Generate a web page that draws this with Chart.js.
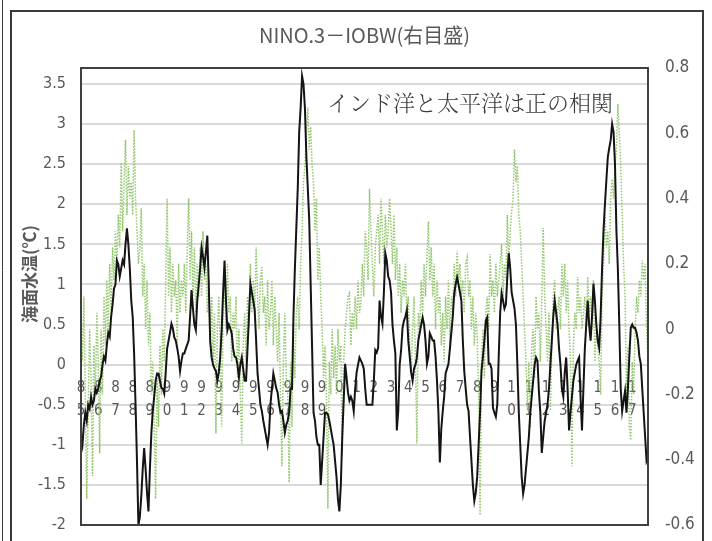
<!DOCTYPE html>
<html lang="ja">
<head>
<meta charset="utf-8">
<title>NINO.3－IOBW</title>
<script src="https://cdn.jsdelivr.net/npm/chart.js@4.4.1/dist/chart.umd.min.js"></script>
<style>
  html, body { margin: 0; padding: 0; background: #ffffff; }
  #wrap { width: 712px; height: 541px; position: relative; }
  canvas { display: block; }
</style>
</head>
<body>
<div id="wrap"><canvas id="c" width="712" height="541"></canvas></div>
<script>
// Years shown on the category axis (monthly data, Jan 1985 - Dec 2017)
const years = [1985,1986,1987,1988,1989,1990,1991,1992,1993,1994,1995,1996,1997,1998,1999,2000,
               2001,2002,2003,2004,2005,2006,2007,2008,2009,2010,2011,2012,2013,2014,2015,2016,2017];

// NINO.3 SST deviation (°C), left axis, one row per year
const nino3 = [
  -0.9,-1.0,-0.75,-0.6,-0.7,-0.5,-0.55,-0.4,-0.5,-0.45,-0.3,-0.35,
  -0.3,-0.2,-0.15,0.0,0.1,0.05,0.25,0.4,0.35,0.6,0.75,0.95,
  1.0,1.3,1.25,1.1,1.2,1.3,1.25,1.5,1.7,1.5,1.2,0.8,
  0.6,0.14,-0.5,-1.2,-2.0,-1.9,-1.64,-1.3,-1.04,-1.3,-1.6,-1.83,
  -1.3,-0.86,-0.58,-0.4,-0.2,-0.11,-0.11,-0.2,-0.29,-0.3,-0.36,-0.1,
  0.2,0.3,0.4,0.51,0.45,0.34,0.3,0.21,0.1,-0.08,0.05,0.14,
  0.14,0.2,0.25,0.3,0.6,0.93,0.7,0.5,0.43,0.8,1.0,1.2,
  1.46,1.35,1.21,1.4,1.61,1.0,0.3,0.09,0.0,-0.05,-0.08,-0.2,
  -0.1,0.1,0.43,0.9,1.3,0.8,0.43,0.5,0.45,0.39,0.2,0.1,
  0.09,0.0,-0.16,0.0,0.09,-0.05,-0.2,-0.2,0.2,0.6,1.01,0.9,
  0.8,0.68,0.3,-0.11,-0.3,-0.5,-0.58,-0.7,-0.8,-0.9,-1.0,-0.85,
  -0.49,-0.3,-0.11,-0.2,-0.29,-0.35,-0.5,-0.6,-0.58,-0.7,-0.85,-0.75,
  -0.7,-0.6,-0.3,-0.3,0.6,1.2,1.7,2.2,2.9,3.2,3.6,3.5,
  3.2,2.6,2.2,1.8,1.0,0.2,-0.6,-0.7,-0.9,-1.0,-1.0,-1.5,
  -1.2,-0.9,-0.6,-0.6,-0.62,-0.7,-0.8,-0.9,-1.0,-1.2,-1.4,-1.68,
  -1.83,-1.5,-0.9,-0.45,0.01,-0.16,-0.35,-0.45,-0.4,-0.45,-0.58,-0.3,
  -0.1,0.0,0.09,0.05,0.01,-0.05,-0.3,-0.5,-0.5,-0.5,-0.5,-0.5,
  -0.2,0.18,0.15,0.21,0.8,0.6,0.51,0.9,1.39,1.3,1.1,1.05,
  0.9,0.5,0.3,0.14,-0.82,-0.58,0.0,0.18,0.46,0.55,0.6,0.68,
  0.3,0.1,-0.1,-0.2,-0.05,0.0,0.09,0.3,0.4,0.5,0.59,0.5,
  0.3,0.01,0.1,0.39,0.35,0.3,0.3,0.1,-0.2,-0.6,-1.22,-0.8,
  -0.58,-0.4,-0.11,-0.05,0.01,0.2,0.4,0.6,0.89,1.0,1.09,1.0,
  0.9,0.8,0.3,-0.08,-0.3,-0.5,-0.58,-0.9,-1.2,-1.5,-1.7,-1.6,
  -1.4,-1.0,-0.6,-0.08,0.1,0.3,0.55,0.59,0.01,0.01,-0.05,-0.54,
  -0.6,-0.65,-0.5,0.1,0.64,0.89,0.8,0.7,0.75,1.1,1.39,1.2,
  0.9,0.8,0.7,0.5,0.0,-0.6,-1.0,-1.4,-1.61,-1.5,-1.3,-1.1,
  -0.9,-0.6,-0.4,-0.2,0.0,0.09,0.05,-0.33,-0.6,-1.1,-0.9,-0.7,
  -0.6,-0.5,-0.3,0.0,0.3,0.6,0.8,0.65,0.5,0.21,0.0,-0.3,
  -0.4,-0.1,0.09,-0.3,-0.82,-0.6,-0.4,-0.2,-0.1,0.0,0.05,0.09,
  -0.4,-0.82,-0.3,0.2,0.5,0.8,0.5,0.3,0.6,1.01,0.8,0.5,
  0.3,0.21,0.6,1.2,1.67,2.0,2.3,2.59,2.7,2.8,3.0,2.9,
  2.5,1.67,1.2,0.5,-0.3,-0.58,-0.45,-0.33,-0.6,-0.3,0.1,0.46,
  0.5,0.46,0.46,0.4,0.3,0.1,0.01,-0.3,-0.6,-0.9,-1.2,-1.15
];

// IOBW SST deviation (°C), right axis, one row per year
const iobw = [
  0.05,-0.1,0.1,-0.2,-0.52,-0.25,0.0,-0.15,-0.45,-0.05,-0.2,0.05,
  -0.1,-0.38,0.0,-0.2,0.1,-0.05,0.15,0.0,0.2,0.05,0.25,0.15,
  0.3,0.2,0.35,0.25,0.51,0.3,0.45,0.58,0.35,0.5,0.4,0.45,
  0.35,0.61,0.4,0.3,0.2,0.25,0.37,0.1,0.2,0.0,0.15,-0.05,
  0.05,-0.2,-0.1,-0.3,-0.52,-0.15,-0.3,-0.05,-0.2,0.0,-0.1,0.15,
  0.4,0.1,0.25,0.05,0.2,0.1,0.15,-0.05,0.2,0.05,0.15,0.1,
  0.2,0.05,0.25,0.4,0.15,0.3,0.1,0.25,0.05,0.2,0.1,0.25,
  0.1,0.3,0.15,0.2,0.05,0.15,-0.05,0.1,-0.1,0.05,-0.32,0.0,
  0.1,-0.05,-0.3,0.05,0.15,0.0,0.2,0.05,0.1,-0.1,0.05,0.0,
  0.1,-0.15,0.0,-0.2,-0.35,-0.05,0.05,-0.1,0.1,0.0,0.2,0.05,
  0.15,0.05,0.25,0.1,0.0,0.15,0.19,0.05,0.1,-0.05,0.15,0.0,
  0.05,0.15,-0.05,0.1,0.0,-0.1,0.05,-0.2,-0.42,-0.1,0.05,-0.15,
  -0.2,-0.47,-0.1,-0.3,0.0,-0.15,0.05,0.1,0.0,0.2,0.3,0.45,
  0.5,0.6,0.68,0.55,0.62,0.5,0.45,0.3,0.4,0.15,0.25,0.1,
  0.0,-0.15,-0.05,-0.2,-0.55,-0.1,-0.2,0.0,-0.15,-0.05,-0.2,0.0,
  -0.1,-0.05,-0.39,-0.1,0.0,0.05,0.1,0.11,-0.05,0.05,0.0,0.1,
  0.0,0.15,0.05,0.08,0.2,0.1,0.3,0.25,0.15,0.43,0.3,0.2,
  0.1,0.25,0.3,0.35,0.2,0.4,0.3,0.2,0.35,0.25,0.3,0.4,
  0.3,0.2,0.35,0.15,0.25,0.1,0.2,0.05,0.15,0.1,0.2,0.05,
  0.1,-0.05,-0.13,0.0,0.1,-0.1,-0.35,0.05,0.0,0.15,0.05,0.2,
  0.1,0.22,0.33,0.15,0.25,0.1,0.2,0.0,0.15,0.05,0.1,-0.05,
  0.05,-0.1,0.1,0.0,0.15,-0.05,0.1,0.05,0.2,0.1,0.24,0.15,
  0.2,0.1,0.15,0.05,0.2,0.22,0.1,0.15,0.0,0.1,-0.05,0.05,
  -0.02,-0.2,-0.57,-0.1,0.0,-0.15,0.05,0.1,0.0,0.23,0.1,0.15,
  0.05,0.2,0.1,0.15,0.2,0.26,0.1,0.2,0.15,0.35,0.2,0.3,
  0.36,0.4,0.55,0.45,0.5,0.35,0.3,0.2,0.1,0.0,-0.1,-0.25,
  -0.1,-0.3,-0.05,0.0,-0.15,0.1,0.0,0.05,-0.1,0.09,0.31,0.1,
  0.0,-0.1,0.05,-0.25,-0.05,0.1,0.15,0.0,0.05,0.1,0.0,0.2,
  0.1,0.2,0.05,0.15,0.0,-0.1,-0.42,-0.05,0.05,0.0,0.16,0.05,
  0.1,0.0,0.05,0.1,0.0,0.16,0.05,0.1,0.0,0.15,-0.1,0.0,
  -0.05,-0.1,-0.2,0.1,0.2,0.35,0.25,0.3,0.2,0.4,0.46,0.4,
  0.5,0.55,0.69,0.6,0.5,0.35,0.2,0.1,-0.2,-0.05,-0.3,-0.34,
  -0.1,-0.2,0.0,0.1,0.05,0.15,0.1,0.21,0.15,0.2,0.0,-0.1
];

// Tick values of both value axes
const leftTicks = [-2,-1.5,-1,-0.5,0,0.5,1,1.5,2,2.5,3,3.5];
const rightTicks = [-0.6,-0.4,-0.2,0,0.2,0.4,0.6,0.8];
const leftRange = [-2, 3.7];
const rightRange = [-0.6, 0.8];

// Texts
const chartTitle = 'NINO.3－IOBW(右目盛)';
const leftTitle = '海面水温(℃)';
const note = 'インド洋と太平洋は正の相関';

// Category labels: one per month, year label on January only.
// Two-digit years wrap onto two lines; 2000-2009 show a single digit.
const labels = [];
years.forEach(y => {
  const yy = y % 100;
  let lab;
  if (y >= 2000 && y < 2010) lab = String(yy);
  else { const s = String(yy).padStart(2, '0'); lab = [s[0], s[1]]; }
  for (let m = 0; m < 12; m++) labels.push(m === 0 ? lab : '');
});

const GRAY = '#595959';
const SANS = "'Liberation Sans Narrow','DejaVu Sans Condensed','Liberation Sans',sans-serif";
const fmt = v => String(Math.round(v * 10) / 10);
const fixTicks = list => scale => { scale.ticks = list.map(v => ({ value: v })); };
// keep the plot rectangle fixed: no label overhang padding from any scale
const noPad = s => { s.paddingTop = 0; s.paddingBottom = 0; s.paddingLeft = 0; s.paddingRight = 0; };

const decor = {
  id: 'decor',
  beforeDraw(chart) {
    const ctx = chart.ctx;
    ctx.save();
    ctx.fillStyle = '#ffffff';
    ctx.fillRect(0, 0, chart.width, chart.height);
    ctx.restore();
  },
  afterDraw(chart) {
    const ctx = chart.ctx;
    const a = chart.chartArea;
    ctx.save();
    // outer frame
    ctx.strokeStyle = '#3a3a3a';
    ctx.lineWidth = 1;
    ctx.beginPath(); ctx.moveTo(2.5, 0); ctx.lineTo(2.5, 541); ctx.stroke();
    ctx.lineWidth = 2;
    ctx.beginPath();
    ctx.moveTo(11, 541); ctx.lineTo(11, 11); ctx.lineTo(703, 11); ctx.lineTo(703, 541);
    ctx.stroke();
    // plot area border
    ctx.strokeStyle = '#404040';
    ctx.lineWidth = 2;
    ctx.strokeRect(a.left, a.top, a.right - a.left, a.bottom - a.top);
    // title
    ctx.fillStyle = GRAY;
    ctx.font = "20px 'Noto Sans CJK JP', sans-serif";
    ctx.textAlign = 'center';
    ctx.textBaseline = 'middle';
    ctx.fillText(chartTitle, (a.left + a.right) / 2, 35);
    // left axis title
    ctx.save();
    ctx.translate(30, 274);
    ctx.rotate(-Math.PI / 2);
    ctx.font = "bold 17px 'Noto Sans CJK JP', sans-serif";
    ctx.fillText(leftTitle, 0, 0);
    ctx.restore();
    // note inside the plot
    ctx.fillStyle = '#3a3a3a';
    ctx.font = "300 22px 'Noto Serif CJK JP','Noto Sans CJK JP', sans-serif";
    ctx.textAlign = 'left';
    ctx.fillText(note, 327, 103);
    ctx.restore();
  }
};

new Chart(document.getElementById('c'), {
  type: 'line',
  data: {
    labels: labels,
    datasets: [
      {
        label: 'NINO.3',
        data: nino3,
        yAxisID: 'y',
        borderColor: '#141414',
        borderWidth: 2,
        pointRadius: 0,
        tension: 0,
        fill: false
      },
      {
        label: 'IOBW',
        data: iobw,
        yAxisID: 'y2',
        borderColor: '#92c76c',
        borderWidth: 1.5,
        borderDash: [1.5, 1.5],
        pointRadius: 0,
        tension: 0,
        fill: false
      }
    ]
  },
  options: {
    responsive: false,
    animation: false,
    events: [],
    layout: { padding: { top: 68, bottom: 16, left: 0, right: 0 } },
    plugins: { legend: { display: false }, tooltip: { enabled: false }, title: { display: false } },
    scales: {
      x: {
        type: 'category',
        position: { y: 0 },
        offset: false,
        afterFit: s => { s.height = 0; noPad(s); },
        grid: { display: false, drawTicks: false },
        border: { display: false },
        ticks: {
          autoSkip: false,
          maxRotation: 0,
          minRotation: 0,
          padding: 12,
          color: GRAY,
          font: { family: SANS, size: 15, lineHeight: '23px' },
          callback: function (v, i) { return labels[i] === '' ? null : labels[i]; }
        }
      },
      y: {
        position: 'left',
        min: leftRange[0],
        max: leftRange[1],
        afterBuildTicks: fixTicks(leftTicks),
        afterFit: s => { s.width = 81; noPad(s); },
        grid: { color: '#d9d9d9', lineWidth: 2, drawTicks: false },
        border: { display: false },
        ticks: {
          padding: 15,
          color: GRAY,
          font: { family: SANS, size: 16 },
          callback: v => fmt(v)
        }
      },
      y2: {
        position: 'right',
        min: rightRange[0],
        max: rightRange[1],
        afterBuildTicks: fixTicks(rightTicks),
        afterFit: s => { s.width = 64; noPad(s); },
        grid: { display: false, drawTicks: false },
        border: { display: false },
        ticks: {
          padding: 17,
          color: GRAY,
          font: { family: SANS, size: 17 },
          callback: v => fmt(v)
        }
      }
    }
  },
  plugins: [decor]
});
</script>
</body>
</html>
